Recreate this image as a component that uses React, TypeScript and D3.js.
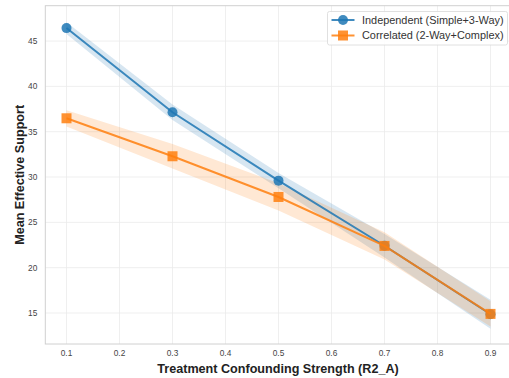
import React from "react";
import * as d3 from "d3";

const xValues = [0.1, 0.3, 0.5, 0.7, 0.9];
const independentMean = [46.43, 37.14, 29.6, 22.42, 14.86];
const independentHalfCI = [0.65, 0.85, 0.85, 1.3, 1.6];
const correlatedMean = [36.48, 32.29, 27.8, 22.4, 14.9];
const correlatedHalfCI = [0.9, 1.35, 1.5, 1.5, 1.4];
const xTicks = [0.1, 0.2, 0.3, 0.4, 0.5, 0.6, 0.7, 0.8, 0.9];
const yTicks = [15, 20, 25, 30, 35, 40, 45];
const seriesNames = ["Independent (Simple+3-Way)", "Correlated (2-Way+Complex)"];
const colors = ["#1f77b4", "#ff7f0e"];

const W = 509;
const H = 378;
const left = 45.3;
const top = 5.7;
const bottom = 344;
const pxPerUnit = 530;

export default function App() {
  const x = d3.scaleLinear().domain([0.06, 0.94]).range([left, left + 0.88 * pxPerUnit]);
  const y = d3.scaleLinear().domain([11.58, 48.9]).range([bottom, top]);
  const right = x(0.94);
  const font = "'Liberation Sans', Arial, sans-serif";

  const series = [
    { name: seriesNames[0], mean: independentMean, ci: independentHalfCI, color: colors[0], marker: "circle" },
    { name: seriesNames[1], mean: correlatedMean, ci: correlatedHalfCI, color: colors[1], marker: "square" },
  ];

  const line = d3.line<[number, number]>().x((d) => x(d[0])).y((d) => y(d[1]));
  const area = d3
    .area<[number, number, number]>()
    .x((d) => x(d[0]))
    .y0((d) => y(d[1] - d[2]))
    .y1((d) => y(d[1] + d[2]));

  const marker = (kind: string, cx: number, cy: number, color: string, key?: string) =>
    kind === "circle" ? (
      <circle key={key} cx={cx} cy={cy} r={5} fill={color} fillOpacity={0.85} />
    ) : (
      <rect key={key} x={cx - 5} y={cy - 5} width={10} height={10} fill={color} fillOpacity={0.85} />
    );

  return (
    <svg width={W} height={H} style={{ position: "absolute", left: 0, top: 0, background: "#fff" }} fontFamily={font}>
      <defs>
        <clipPath id="plot">
          <rect x={left} y={top} width={right - left} height={bottom - top} />
        </clipPath>
      </defs>
      {xTicks.map((t) => (
        <line key={"gx" + t} x1={x(t)} x2={x(t)} y1={top} y2={bottom} stroke="#ebebeb" strokeWidth={0.8} />
      ))}
      {yTicks.map((t) => (
        <line key={"gy" + t} x1={left} x2={right} y1={y(t)} y2={y(t)} stroke="#ebebeb" strokeWidth={0.8} />
      ))}
      <rect x={left} y={top} width={right - left} height={bottom - top} fill="none" stroke="#d0d0d0" strokeWidth={1} />

      <g clipPath="url(#plot)">
        {series.map((s) => (
          <path
            key={"band" + s.name}
            d={area(xValues.map((v, i) => [v, s.mean[i], s.ci[i]] as [number, number, number])) || ""}
            fill={s.color}
            fillOpacity={0.18}
          />
        ))}
        {series.map((s) => (
          <g key={"l" + s.name}>
            <path
              d={line(xValues.map((v, i) => [v, s.mean[i]] as [number, number])) || ""}
              fill="none"
              stroke={s.color}
              strokeOpacity={0.85}
              strokeWidth={2}
            />
            {xValues.map((v, i) => marker(s.marker, x(v), y(s.mean[i]), s.color, s.name + i))}
          </g>
        ))}
      </g>

      {xTicks.map((t) => (
        <text key={"tx" + t} x={x(t)} y={bottom + 12} fontSize={8.3} fill="#444" textAnchor="middle">
          {d3.format(".1f")(t)}
        </text>
      ))}
      {yTicks.map((t) => (
        <text key={"ty" + t} x={left - 8} y={y(t) + 3} fontSize={8.3} fill="#444" textAnchor="end">
          {t}
        </text>
      ))}

      <text x={278} y={372.5} fontSize={12.6} fontWeight="bold" fill="#222" textAnchor="middle">
        Treatment Confounding Strength (R2_A)
      </text>
      <text
        transform={`translate(24,${(top + bottom) / 2}) rotate(-90)`}
        fontSize={12.6}
        fontWeight="bold"
        fill="#222"
        textAnchor="middle"
      >
        Mean Effective Support
      </text>

      <g>
        <rect x={327.5} y={11.5} width={180} height={33.5} rx={2} fill="#fff" fillOpacity={0.85} stroke="#d8d8d8" strokeWidth={0.8} />
        {series.map((s, i) => {
          const ly = 20 + i * 15.5;
          return (
            <g key={"lg" + s.name}>
              <line x1={331.5} x2={354.5} y1={ly} y2={ly} stroke={s.color} strokeOpacity={0.85} strokeWidth={2} />
              {marker(s.marker, 343, ly, s.color)}
              <text x={362} y={ly + 3.8} fontSize={10.9} fill="#333">
                {s.name}
              </text>
            </g>
          );
        })}
      </g>
    </svg>
  );
}
